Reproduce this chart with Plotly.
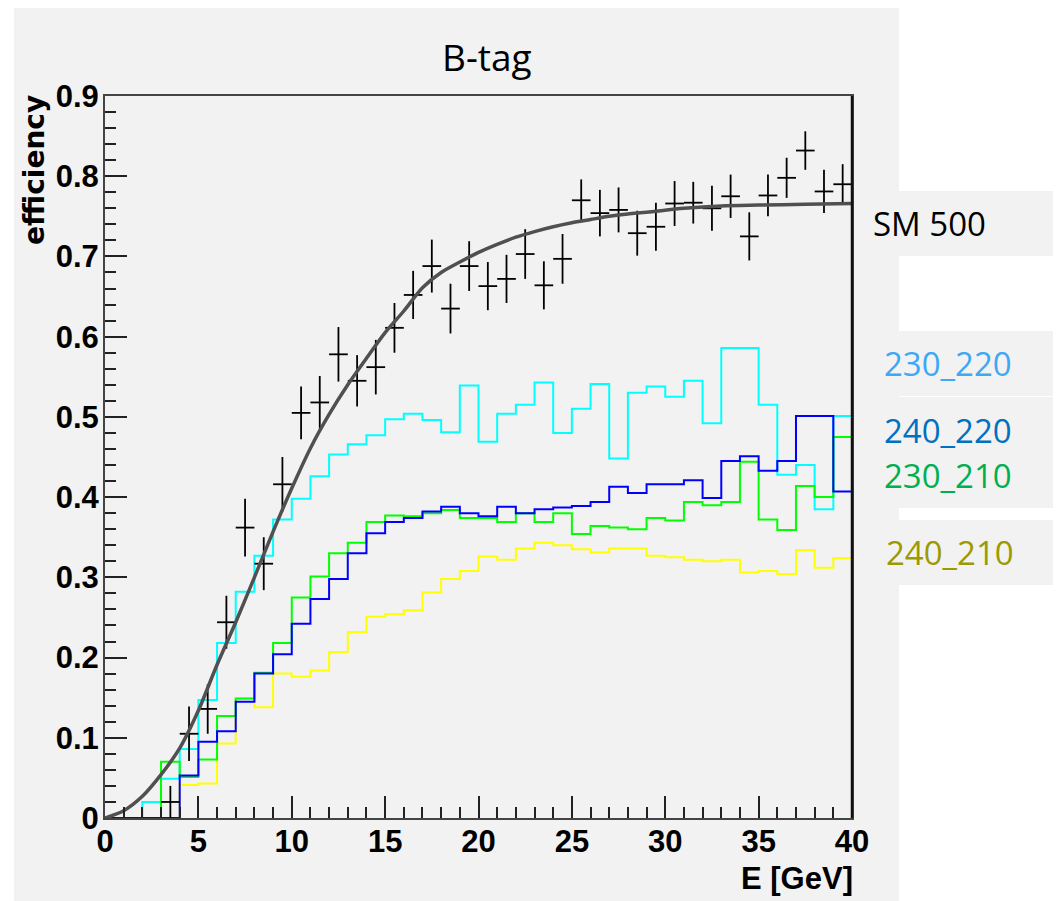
"""B-tag efficiency vs jet energy, ROOT-style histogram recreated in Plotly."""
import plotly.graph_objects as go

# ---- data -------------------------------------------------------------
bin_edges = list(range(0, 41))  # 1 GeV bins, 0..40 GeV

eff_230_220 = [0, 0, 0.020, 0.049, 0.086, 0.147, 0.218, 0.282, 0.327, 0.372,
               0.398, 0.426, 0.453, 0.466, 0.477, 0.497, 0.504, 0.496, 0.481, 0.539,
               0.469, 0.504, 0.515, 0.543, 0.480, 0.510, 0.541, 0.448, 0.530, 0.538,
               0.525, 0.545, 0.492, 0.586, 0.586, 0.515, 0.428, 0.440, 0.385, 0.501]
eff_240_220 = [0, 0, 0, 0, 0.053, 0.095, 0.108, 0.145, 0.180, 0.204,
               0.242, 0.273, 0.298, 0.330, 0.355, 0.369, 0.374, 0.382, 0.388, 0.380,
               0.376, 0.388, 0.380, 0.385, 0.387, 0.389, 0.394, 0.413, 0.405, 0.416,
               0.416, 0.421, 0.399, 0.445, 0.451, 0.433, 0.445, 0.501, 0.501, 0.407]
eff_230_210 = [0, 0, 0, 0.070, 0.051, 0.073, 0.127, 0.149, 0.181, 0.218,
               0.275, 0.301, 0.330, 0.343, 0.369, 0.377, 0.376, 0.380, 0.384, 0.374,
               0.374, 0.369, 0.380, 0.369, 0.380, 0.354, 0.364, 0.362, 0.360, 0.374,
               0.371, 0.394, 0.390, 0.394, 0.444, 0.372, 0.359, 0.414, 0.400, 0.475]
eff_240_210 = [0, 0, 0, 0, 0.041, 0.043, 0.093, 0.149, 0.138, 0.180,
               0.176, 0.184, 0.207, 0.232, 0.251, 0.254, 0.259, 0.281, 0.298, 0.308,
               0.326, 0.322, 0.336, 0.343, 0.340, 0.335, 0.331, 0.336, 0.336, 0.327,
               0.325, 0.322, 0.320, 0.322, 0.306, 0.308, 0.304, 0.334, 0.312, 0.324]

# SM 500 points with errors (bin centres)
sm_e = [3.5, 4.5, 5.5, 6.5, 7.5, 8.5, 9.5, 10.5, 11.5, 12.5,
        13.5, 14.5, 15.5, 16.5, 17.5, 18.5, 19.5, 20.5, 21.5, 22.5,
        23.5, 24.5, 25.5, 26.5, 27.5, 28.5, 29.5, 30.5, 31.5, 32.5,
        33.5, 34.5, 35.5, 36.5, 37.5, 38.5, 39.5]
sm_eff = [0.020, 0.105, 0.136, 0.244, 0.362, 0.317, 0.416, 0.505, 0.518, 0.578,
          0.545, 0.562, 0.611, 0.652, 0.688, 0.635, 0.688, 0.663, 0.672, 0.703,
          0.664, 0.697, 0.770, 0.754, 0.758, 0.729, 0.737, 0.766, 0.767, 0.760,
          0.775, 0.725, 0.776, 0.798, 0.832, 0.781, 0.790]
sm_err = [0.020, 0.034, 0.031, 0.033, 0.036, 0.033, 0.034, 0.033, 0.033, 0.034,
          0.032, 0.034, 0.031, 0.030, 0.033, 0.031, 0.031, 0.030, 0.030, 0.031,
          0.030, 0.031, 0.026, 0.029, 0.028, 0.028, 0.030, 0.028, 0.026, 0.028,
          0.027, 0.030, 0.026, 0.025, 0.024, 0.027, 0.025]

# fitted curve
fit_e = [0, 1, 2, 3, 4, 5, 6, 7, 8, 9, 10, 11, 12, 13, 14, 15, 16, 17, 18, 19,
         20, 21, 22, 23, 24, 25, 26, 27, 28, 29, 31, 33, 35, 37.5, 40]
fit_eff = [0, 0.009, 0.027, 0.054, 0.087, 0.134, 0.191, 0.244, 0.300, 0.357,
           0.411, 0.461, 0.503, 0.540, 0.573, 0.605, 0.632, 0.661, 0.680, 0.693,
           0.705, 0.715, 0.724, 0.731, 0.737, 0.742, 0.746, 0.750, 0.753, 0.755,
           0.760, 0.763, 0.764, 0.765, 0.766]

x_ticks = [0, 5, 10, 15, 20, 25, 30, 35, 40]
y_ticks = [0, 0.1, 0.2, 0.3, 0.4, 0.5, 0.6, 0.7, 0.8, 0.9]

# ---- geometry (page has an 8px body margin) ------------------------------
OFF = 8
W, H = 1061 - OFF, 901 - OFF
L, R, T, B = 97, 209, 88, 83
PW, PH = W - L - R, H - T - B


def px(x):
    """screen pixel x -> paper fraction"""
    return (x - OFF - L) / PW


def py(y):
    """screen pixel y -> paper fraction"""
    return (H - B - (y - OFF)) / PH


PANEL = '#f2f2f2'
TICK_FONT = dict(family='Liberation Sans, Arial', size=31, color='black', weight='bold')
LABEL_FONT = 'Open Sans, Noto Sans, sans-serif'

fig = go.Figure()

hists = [
    (eff_230_220, '#00ffff', '230_220'),
    (eff_240_210, '#ffff00', '240_210'),
    (eff_230_210, '#00ff00', '230_210'),
    (eff_240_220, '#0000ff', '240_220'),
]
for vals, color, name in hists:
    fig.add_trace(go.Scatter(
        x=bin_edges,
        y=vals + [vals[-1]],
        mode='lines',
        line=dict(color=color, width=2, shape='hv'),
        name=name,
        showlegend=False,
    ))

fig.add_trace(go.Scatter(
    x=sm_e,
    y=sm_eff,
    mode='markers',
    marker=dict(size=1, color='black'),
    error_x=dict(type='constant', value=0.5, width=0, thickness=1.8, color='black'),
    error_y=dict(type='data', array=sm_err, width=0, thickness=1.8, color='black'),
    showlegend=False,
))

fig.add_trace(go.Scatter(
    x=fit_e,
    y=fit_eff,
    mode='lines',
    line=dict(color='#505050', width=3.5, shape='spline', smoothing=0.8),
    showlegend=False,
))

# grey panel and the side label boxes
shapes = [
    dict(type='rect', xref='paper', yref='paper', layer='below',
         x0=px(14), x1=px(899), y0=py(901), y1=py(8),
         fillcolor=PANEL, line=dict(width=0)),
]
for top, bottom in [(191, 256), (331, 396), (397, 508), (520, 585)]:
    shapes.append(dict(type='rect', xref='paper', yref='paper', layer='below',
                       x0=px(857), x1=px(1061), y0=py(bottom), y1=py(top),
                       fillcolor=PANEL, line=dict(width=0)))
# darker right frame edge, as in the ROOT canvas
shapes.append(dict(type='line', xref='paper', yref='paper', x0=1, x1=1, y0=0, y1=1,
                   line=dict(color='#111111', width=2.5)))

annotations = [
    dict(text='B-tag', x=px(487), y=py(57), xref='paper', yref='paper',
         showarrow=False, xanchor='center', yanchor='middle',
         font=dict(family=LABEL_FONT, size=37, color='black')),
    dict(text='efficiency', x=px(35), y=py(93), xref='paper', yref='paper',
         showarrow=False, textangle=-90, xanchor='center', yanchor='top',
         font=dict(family='DejaVu Sans', size=28, color='black', weight='bold')),
    dict(text='E [GeV]', x=1.004, y=py(878), xref='paper', yref='paper',
         showarrow=False, xanchor='right', yanchor='middle',
         font=TICK_FONT),
]
labels = [
    ('SM 500', 'black', 871, 223),
    ('230_220', '#3ea8f5', 882, 363),
    ('240_220', '#0070c0', 882, 430),
    ('230_210', '#00b050', 882, 475),
    ('240_210', '#9c9a00', 884, 552),
]
for text, color, lx, ly in labels:
    annotations.append(dict(text=text, x=px(lx), y=py(ly), xref='paper', yref='paper',
                            showarrow=False, xanchor='left', yanchor='middle',
                            font=dict(family=LABEL_FONT, size=33, color=color)))

fig.update_layout(
    width=W,
    height=H,
    margin=dict(l=L, r=R, t=T, b=B, pad=0),
    paper_bgcolor='white',
    plot_bgcolor=PANEL,
    shapes=shapes,
    annotations=annotations,
    xaxis=dict(
        range=[0, 40],
        tickvals=x_ticks,
        ticks='inside',
        ticklen=22,
        tickwidth=2,
        tickcolor='#222222',
        minor=dict(dtick=1, ticks='inside', ticklen=11, tickwidth=1.5, tickcolor='#222222'),
        showline=True,
        linecolor='#444444',
        linewidth=2,
        mirror=True,
        showgrid=False,
        zeroline=False,
        tickfont=TICK_FONT,
        ticklabelstandoff=-5,
    ),
    yaxis=dict(
        range=[0, 0.9],
        tickvals=y_ticks,
        ticktext=[f'{v:g}' for v in y_ticks],
        ticks='inside',
        ticklen=22,
        tickwidth=2,
        tickcolor='#222222',
        minor=dict(dtick=0.02, ticks='inside', ticklen=11, tickwidth=1.5, tickcolor='#222222'),
        showline=True,
        linecolor='#444444',
        linewidth=2,
        mirror=True,
        showgrid=False,
        zeroline=False,
        tickfont=TICK_FONT,
        ticklabelstandoff=-2,
    ),
    showlegend=False,
)

fig.write_html('out.html')
